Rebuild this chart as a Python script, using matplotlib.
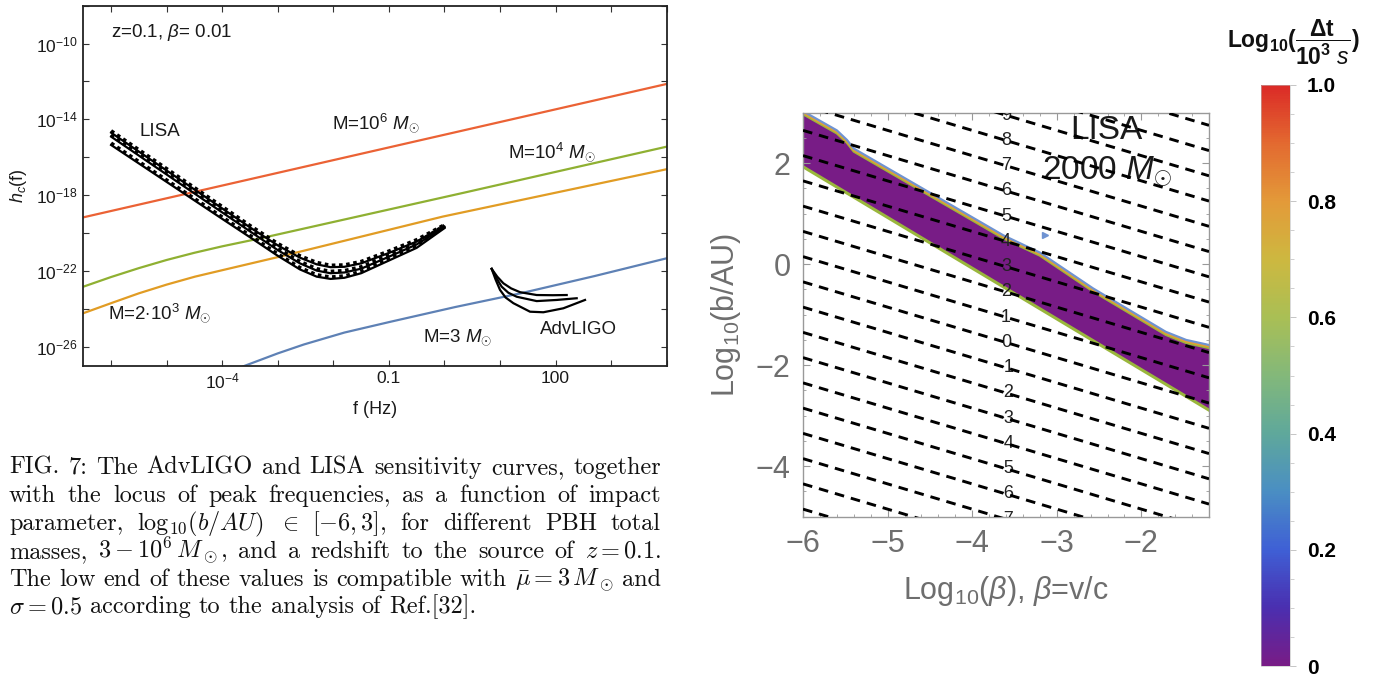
import numpy as np
import matplotlib
matplotlib.use("Agg")
import matplotlib.pyplot as plt
from matplotlib.colors import LinearSegmentedColormap, Normalize
from matplotlib.cm import ScalarMappable
from matplotlib import transforms
import matplotlib.ticker as mticker

plt.rcParams['font.family'] = ['Liberation Sans', 'DejaVu Sans']
plt.rcParams['mathtext.fontset'] = 'custom'
plt.rcParams['mathtext.rm'] = 'Liberation Sans'
plt.rcParams['mathtext.it'] = 'Liberation Sans:italic'
plt.rcParams['mathtext.bf'] = 'Liberation Sans:bold'

# ---------------- left panel data (log10 f [Hz], log10 h_c) ----------------
red_logf = [-6.5, -1.0, 4.0]
red_logh = [-19.17, -15.48, -12.13]
green_logf = [-6.5, -6.0, -5.5, -5.0, -4.5, -4.0, -3.3, 0.35, 4.0]
green_logh = [-22.83, -22.32, -21.85, -21.42, -21.04, -20.70, -20.27, -17.87, -15.44]
orange_logf = [-6.5, -6.0, -5.5, -5.0, -4.49, -4.0, -3.0, -0.03, 2.0, 4.0]
orange_logh = [-24.23, -23.70, -23.18, -22.72, -22.30, -21.96, -21.27, -19.13, -17.87, -16.63]
blue_logf = [-3.8, -3.59, -3.0, -2.53, -1.8, -0.97, 0.2, 1.37, 2.7, 4.0]
blue_logh = [-27.25, -27.0, -26.35, -25.88, -25.25, -24.68, -23.90, -23.18, -22.27, -21.33]

lisa_logf = [-6.0, -5.0, -4.0, -3.5, -3.0, -2.6, -2.3, -2.05, -1.8, -1.5, -1.0, -0.5, 0.0]
lisa_top_logh = [-14.70, -16.70, -18.70, -19.70, -20.65, -21.30, -21.65, -21.80, -21.78, -21.60, -21.05, -20.45, -19.66]
lisa_mid_logh = [-14.91, -16.91, -18.91, -19.91, -20.90, -21.60, -21.98, -22.12, -22.08, -21.88, -21.25, -20.60, -19.70]
lisa_bot_logh = [-15.35, -17.30, -19.25, -20.22, -21.20, -21.92, -22.30, -22.42, -22.36, -22.12, -21.45, -20.78, -19.74]

ligo_a_logf = [0.85, 0.95, 1.06, 1.20, 1.36, 1.66, 1.95, 2.20]
ligo_a_logh = [-21.89, -22.30, -22.65, -22.92, -23.12, -23.27, -23.28, -23.27]
ligo_b_logf = [0.85, 0.94, 1.03, 1.15, 1.30, 1.66, 2.02, 2.38]
ligo_b_logh = [-21.89, -22.40, -22.83, -23.15, -23.36, -23.59, -23.53, -23.44]
ligo_c_logf = [0.85, 0.92, 1.00, 1.10, 1.24, 1.54, 1.78, 2.14, 2.53]
ligo_c_logh = [-21.89, -22.45, -23.00, -23.40, -23.70, -24.15, -24.18, -23.97, -23.53]

x_tick_labels_left = {-4: r'$10^{-4}$', -1: '0.1', 2: '100'}
y_tick_labels_left = {-10: r'$10^{-10}$', -14: r'$10^{-14}$', -18: r'$10^{-18}$',
                      -22: r'$10^{-22}$', -26: r'$10^{-26}$'}

# ---------------- right panel data ----------------
dash_levels = list(range(-9, 12))
dash_x_ends = [-6.0, -1.2]
dash_y_left = [-4.85, -4.35, -3.85, -3.35, -2.85, -2.35, -1.85, -1.35, -0.85, -0.35, 0.15,
               0.65, 1.15, 1.65, 2.15, 2.65, 3.15, 3.65, 4.15, 4.65, 5.15]
dash_y_right = [-7.25, -6.75, -6.25, -5.75, -5.25, -4.75, -4.25, -3.75, -3.25, -2.75, -2.25,
                -1.75, -1.25, -0.75, -0.25, 0.25, 0.75, 1.25, 1.75, 2.25, 2.75]
label_levels = list(range(-7, 10))
label_x = -3.6

band_low_x = [-6.0, -1.2]
band_low_y = [1.93, -2.89]
band_up_x = [-6.0, -5.6, -5.48, -5.40, -3.63, -3.20, -2.57, -1.71, -1.47, -1.20]
band_up_y = [3.0, 2.62, 2.43, 2.26, 0.54, 0.20, -0.51, -1.37, -1.53, -1.63]
blue_spot = (-3.14, 0.58)

cbar_ticks = [0, 0.2, 0.4, 0.6, 0.8, 1.0]
cbar_ticklabels = ['0', '0.2', '0.4', '0.6', '0.8', '1.0']
rainbow_colors = ['#781c86', '#4a2fb0', '#3f60d5', '#4a8ec3', '#5fa89b', '#83b87a',
                  '#a9bf55', '#cdb840', '#e39a39', '#e36a30', '#db2b27']

caption_lines = [
    ["FIG.", "7:", "The", "AdvLIGO", "and", "LISA", "sensitivity", "curves,", "together"],
    ["with", "the", "locus", "of", "peak", "frequencies,", "as", "a", "function", "of", "impact"],
    ["parameter,", r"$\mathrm{log}_{10}(b/AU)$", r"$\in$", r"$[-6,3]$,", "for", "different", "PBH", "total"],
    ["masses,", r"$3-10^6\,M_\odot$,", "and", "a", "redshift", "to", "the", "source", "of", r"$z=0.1$."],
    ["The", "low", "end", "of", "these", "values", "is", "compatible", "with", r"$\bar{\mu}=3\,M_\odot$", "and"],
    [r"$\sigma=0.5$", "according", "to", "the", "analysis", "of", "Ref.[32]."],
]

# ---------------- figure ----------------
W, H = 1385, 677
fig = plt.figure(figsize=(W / 100, H / 100), dpi=100)

# ===== left panel =====
ax = fig.add_axes([83.3 / W, 1 - 365.7 / H, 583.4 / W, 360 / H])
ax.set_xscale('log')
ax.set_yscale('log')
ax.set_xlim(10 ** -6.5, 10 ** 4.0)
ax.set_ylim(1e-27, 1e-8)

def P(a):
    return 10 ** np.asarray(a, dtype=float)

ax.plot(P(red_logf), P(red_logh), color='#eb6235', lw=1.6)
ax.plot(P(green_logf), P(green_logh), color='#8fb032', lw=1.6)
ax.plot(P(orange_logf), P(orange_logh), color='#e19c24', lw=1.6)
ax.plot(P(blue_logf), P(blue_logh), color='#5e81b5', lw=1.6)

up = transforms.offset_copy(ax.transData, fig=fig, x=0, y=1.3, units='points')
for lh in (lisa_top_logh, lisa_mid_logh, lisa_bot_logh):
    ax.plot(P(lisa_logf), P(lh), color='k', lw=1.6, zorder=4)
    ax.plot(P(lisa_logf), P(lh), color='k', lw=2.6, ls=(0, (1.0, 1.0)), zorder=4,
            transform=up)

for lf, lh in ((ligo_a_logf, ligo_a_logh), (ligo_b_logf, ligo_b_logh), (ligo_c_logf, ligo_c_logh)):
    ax.plot(P(lf), P(lh), color='k', lw=1.6, zorder=4)

txt_kw = dict(fontsize=13.5, color='#1a1a1a')
ax.text(10 ** -6.01, 10 ** -9.41, r'z=0.1, $\beta$= 0.01', va='center', ha='left', **txt_kw)
ax.text(10 ** -5.13, 10 ** -14.65, 'LISA', va='center', ha='center', **txt_kw)
ax.text(10 ** -2.02, 10 ** -14.2, r'M=10$^6$ $M_{\odot}$', va='center', ha='left', **txt_kw)
ax.text(10 ** 1.14, 10 ** -15.75, r'M=10$^4$ $M_{\odot}$', va='center', ha='left', **txt_kw)
ax.text(10 ** -6.06, 10 ** -24.25, r'M=2$\cdot$10$^3$ $M_{\odot}$', va='center', ha='left', **txt_kw)
ax.text(10 ** -0.39, 10 ** -25.5, r'M=3 $M_{\odot}$', va='center', ha='left', **txt_kw)
ax.text(10 ** 1.72, 10 ** -25.1, 'AdvLIGO', va='center', ha='left', **txt_kw)

ax.xaxis.set_major_locator(mticker.FixedLocator([10.0 ** k for k in range(-6, 5)]))
ax.xaxis.set_minor_locator(mticker.NullLocator())
ax.xaxis.set_major_formatter(mticker.FuncFormatter(
    lambda v, p: x_tick_labels_left.get(int(round(np.log10(v))), '')))
ax.yaxis.set_major_locator(mticker.FixedLocator([10.0 ** k for k in range(-26, -7, 2)]))
ax.yaxis.set_minor_locator(mticker.NullLocator())
ax.yaxis.set_major_formatter(mticker.FuncFormatter(
    lambda v, p: y_tick_labels_left.get(int(round(np.log10(v))), '')))
ax.tick_params(which='both', direction='in', top=True, right=True, length=4.5, width=0.8,
               color='#333333', labelsize=12.5, labelcolor='#1a1a1a', pad=4)
for s in ax.spines.values():
    s.set_linewidth(1.3)
    s.set_color('#222222')
ax.set_xlabel('f (Hz)', fontsize=13, color='#1a1a1a', labelpad=7)
ax.set_ylabel(r'$h_c$(f)', fontsize=13, color='#1a1a1a', labelpad=5)

# ===== right panel =====
cmap = LinearSegmentedColormap.from_list('mma_rainbow', rainbow_colors)
axr = fig.add_axes([803 / W, 1 - 516.7 / H, 406 / W, 404 / H])
axr.set_xlim(-6, -1.2)
axr.set_ylim(-5, 3)

poly_x = np.concatenate([band_up_x, band_low_x[::-1]])
poly_y = np.concatenate([band_up_y, band_low_y[::-1]])
axr.fill(poly_x, poly_y, color=cmap(0.0), lw=0, zorder=1)
axr.plot(band_low_x, band_low_y, color='#9ab73c', lw=2.2, zorder=2)
t_up = transforms.offset_copy(axr.transData, fig=fig, x=0, y=1.1, units='points')
t_dn = transforms.offset_copy(axr.transData, fig=fig, x=0, y=-1.1, units='points')
axr.plot(band_up_x, band_up_y, color='#9ab73c', lw=1.6, zorder=2, transform=t_dn)
axr.plot(band_up_x, band_up_y, color='#e8a030', lw=1.6, zorder=2.1)
axr.plot(band_up_x, band_up_y, color='#6f93d2', lw=1.6, zorder=2.2, transform=t_up)
axr.plot([blue_spot[0]], [blue_spot[1]], marker='>', ms=4, color='#6f93d2', lw=0, zorder=2)

for lev, yl, yr in zip(dash_levels, dash_y_left, dash_y_right):
    axr.plot(dash_x_ends, [yl, yr], color='k', lw=2.1, ls=(0, (3.3, 2.4)),
             dash_capstyle='butt', zorder=5)
    if lev in label_levels:
        yl_lab = np.interp(label_x, dash_x_ends, [yl, yr])
        axr.text(label_x, yl_lab, str(lev), fontsize=13, color='#222222', ha='center',
                 va='center', zorder=3, clip_on=True)

axr.text(-2.41, 2.64, 'LISA', fontsize=24, color='#1a1a1a', ha='center', va='center', zorder=3)
axr.text(-2.40, 1.83, r'2000 $M_{\odot}$', fontsize=24, color='#1a1a1a', ha='center',
         va='center', zorder=3)

axr.set_xticks([-6, -5, -4, -3, -2])
axr.xaxis.set_minor_locator(mticker.MultipleLocator(0.2))
axr.set_yticks([-4, -2, 0, 2])
axr.yaxis.set_minor_locator(mticker.MultipleLocator(0.5))
axr.tick_params(which='both', direction='in', top=True, right=True, color='#999999',
                labelsize=22, labelcolor='#6e6e6e')
axr.tick_params(which='major', length=5, width=0.8, pad=9)
axr.tick_params(which='minor', length=2.5, width=0.6)
for s in axr.spines.values():
    s.set_linewidth(1.0)
    s.set_color('#999999')
axr.set_xlabel(r'Log$_{10}$($\beta$), $\beta$=v/c', fontsize=22, color='#6e6e6e', labelpad=11)
axr.set_ylabel(r'Log$_{10}$(b/AU)', fontsize=22, color='#6e6e6e', labelpad=9)

# ===== colorbar =====
cax = fig.add_axes([1261 / W, 1 - 666 / H, 29 / W, 581 / H])
cb = fig.colorbar(ScalarMappable(norm=Normalize(0, 1), cmap=cmap), cax=cax)
cb.outline.set_linewidth(0.4)
cb.outline.set_edgecolor('#bbbbbb')
cb.set_ticks(cbar_ticks)
cb.set_ticklabels(cbar_ticklabels)
cax.yaxis.set_minor_locator(mticker.MultipleLocator(0.05))
cax.tick_params(which='both', color='#bbbbbb', direction='out')
cax.tick_params(which='major', length=4, width=0.6, labelsize=15, pad=8)
cax.tick_params(which='minor', length=3, width=0.5)
for t in cax.get_yticklabels():
    t.set_fontweight('bold')
fig.text(1293 / W, 1 - 42 / H, r'Log$_{\mathbf{10}}$($\mathbf{\dfrac{\Delta t}{10^3\ \mathit{s}}}$)',
         fontsize=16.5, fontweight='bold', ha='center', va='center', color='#111111')

# ===== caption (justified) =====
renderer = fig.canvas.get_renderer()
x0, x1 = 9.0, 661.0
baselines = [474, 502, 530, 558, 586, 613]
cap_fs = 17.5
for i, words in enumerate(caption_lines):
    ypos = 1 - baselines[i] / H
    objs = [fig.text(0, ypos, w, fontsize=cap_fs, family='cmr10', math_fontfamily='cm',
                     va='baseline', ha='left', color='#111111') for w in words]
    widths = [o.get_window_extent(renderer).width for o in objs]
    if i == len(caption_lines) - 1:
        gap = 0.333 * cap_fs * 100 / 72
    else:
        gap = (x1 - x0 - sum(widths)) / (len(words) - 1)
    xc = x0
    for o, wdt in zip(objs, widths):
        o.set_x(xc / W)
        xc += wdt + gap

fig.savefig('out.png', dpi=100)
